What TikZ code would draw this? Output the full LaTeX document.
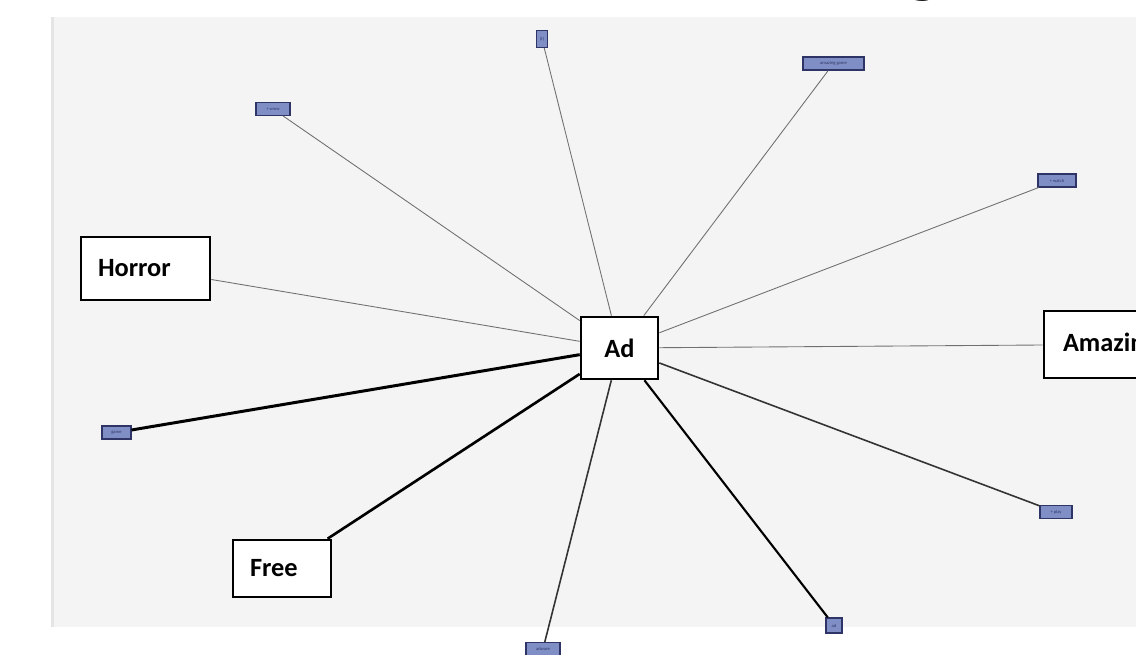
\documentclass[tikz,border=0pt]{standalone}
\usepackage{fontspec}
\setmainfont{Carlito}
\definecolor{bgcol}{HTML}{F4F4F4}
\definecolor{smfill}{HTML}{7F8FC6}
\definecolor{smdraw}{HTML}{2E3566}
\definecolor{thinln}{HTML}{707070}
\begin{document}
\begin{tikzpicture}[x=0.02cm,y=-0.02cm,
  bignode/.style={draw=black,line width=1.5pt,fill=white,inner ysep=0pt,font=\bfseries\fontsize{15}{18}\selectfont,anchor=center},
  smnode/.style={draw=smdraw,line width=0.6pt,fill=smfill,inner sep=0.4pt,minimum height=0.26cm,font=\fontsize{2.6}{3}\selectfont,text=smdraw},
  thinedge/.style={draw=thinln,line width=0.5pt},
  medge/.style={draw=black!80,line width=0.9pt},
  thickedge/.style={draw=black,line width=1.5pt}]
\useasboundingbox (0,0) rectangle (1136,655);
\fill[white] (0,0) rectangle (1136,655);
\fill[bgcol] (51,17) rectangle (1136,627);
\fill[black!10] (51,17) rectangle (54,627);
% title fragment
\node[anchor=base,inner sep=0pt,font=\bfseries\fontsize{40}{40}\selectfont] (title) at (923,-10) {g};
% big nodes
\node[bignode,minimum width=1.54cm,minimum height=1.24cm,inner xsep=0pt] (ad) at (619.5,348) {Ad};
\node[bignode,minimum height=1.26cm,inner xsep=0.34cm,text width=1.9cm,align=left] (horror) at (145.5,268.5) {Horror};
\node[bignode,minimum height=1.14cm,inner xsep=0.34cm,text width=1.28cm,align=left] (free) at (282,568.5) {Free};
\node[bignode,minimum height=1.34cm,inner xsep=0.38cm,text width=2.0cm,align=left] (amazing) at (1113,344.5) {Amazing};
% small nodes
\node[smnode,minimum width=0.22cm,minimum height=0.34cm] (s1) at (542,39) {(t)};
\node[smnode,minimum width=1.22cm] (s2) at (833.5,63.5) {amazing game};
\node[smnode,minimum width=0.68cm] (s3) at (273,109) {+ www};
\node[smnode,minimum width=0.76cm] (s4) at (1057,180.5) {+ watch};
\node[smnode,minimum width=0.58cm] (s5) at (116.5,432.5) {game};
\node[smnode,minimum width=0.64cm] (s6) at (1056,512) {+ play};
\node[smnode,minimum width=0.32cm,minimum height=0.3cm] (s7) at (834,625.5) {ad};
\node[smnode,minimum width=0.68cm] (s8) at (543,649) {adware};
% connectors
\draw[thinedge] (ad) -- (horror);
\draw[thinedge] (ad) -- (s1);
\draw[thinedge] (ad) -- (s2);
\draw[thinedge] (ad) -- (s3);
\draw[thinedge] (ad) -- (s4);
\draw[thinedge] (ad) -- (amazing);
\draw[medge] (ad) -- (s6);
\draw[medge] (ad) -- (s8);
\draw[thickedge,line width=1.2pt] (ad) -- (s7);
\draw[thickedge] (ad) -- (free);
\draw[thickedge,line width=1.7pt] (ad) -- (s5);
\end{tikzpicture}
\end{document}
